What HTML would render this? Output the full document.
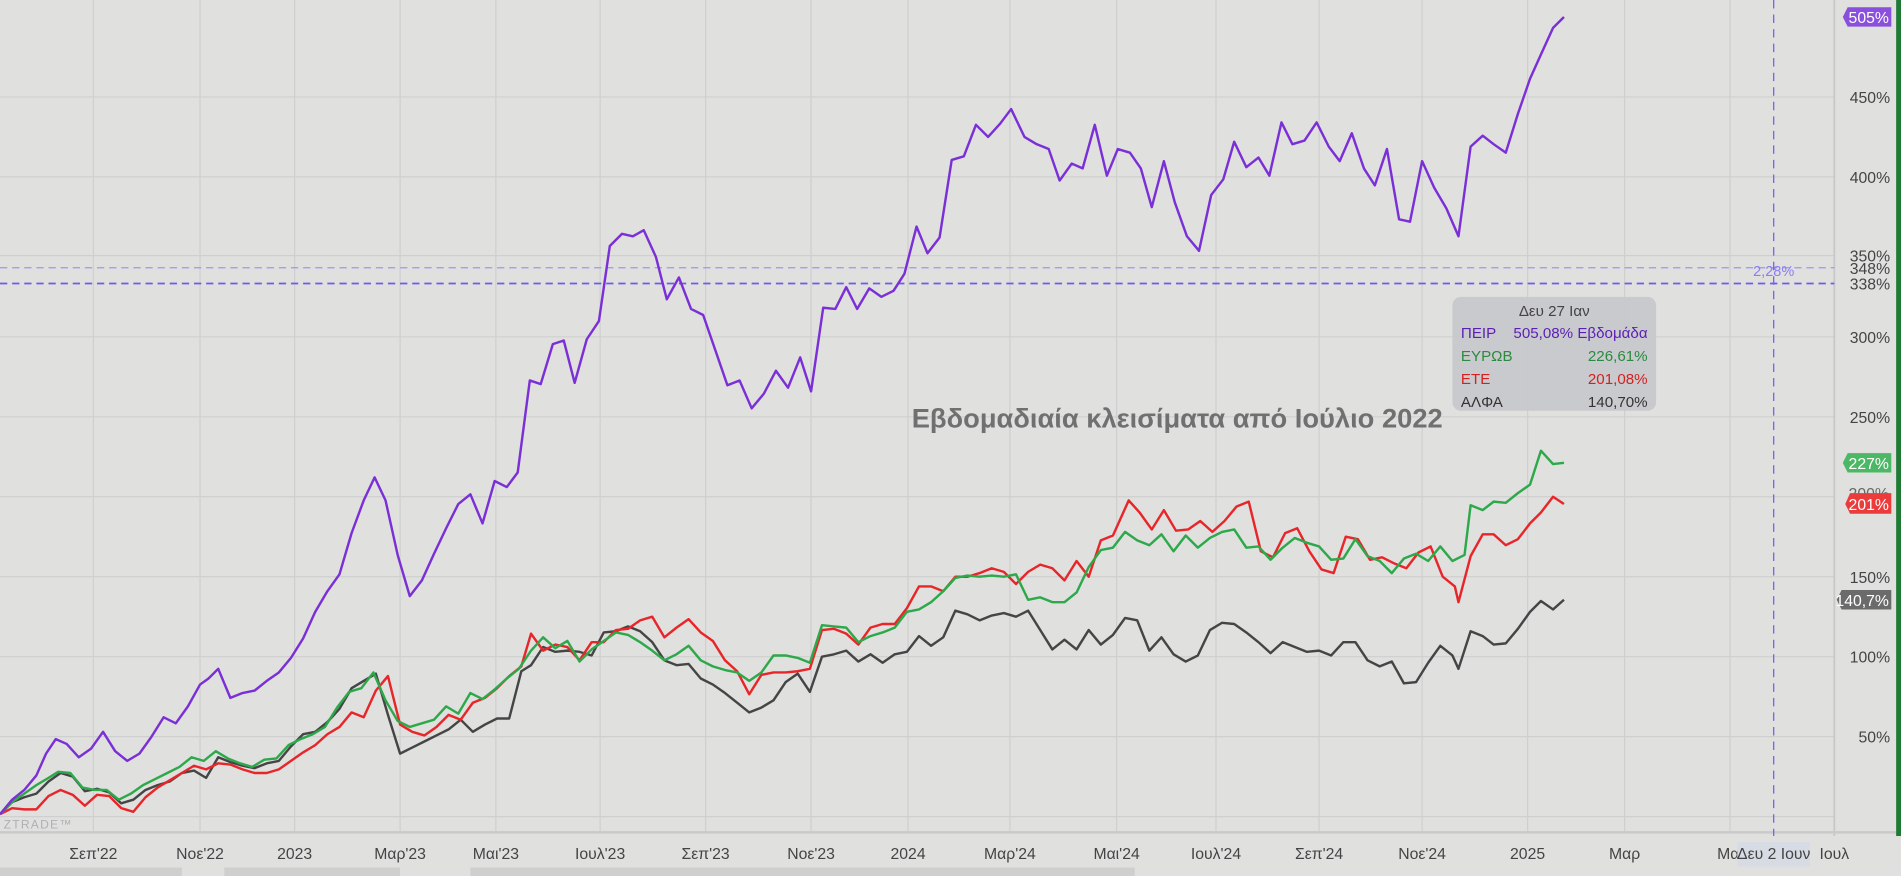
<!DOCTYPE html>
<html><head><meta charset="utf-8"><style>
html,body{margin:0;padding:0;background:#e0e0df;overflow:hidden}
svg{display:block}
text{font-family:"Liberation Sans","DejaVu Sans",sans-serif}
</style></head><body>
<svg width="1901" height="876" viewBox="0 0 1568 723" preserveAspectRatio="none" xmlns="http://www.w3.org/2000/svg">
<rect x="0" y="0" width="1568" height="723" fill="#e0e0df"/>
<g stroke="#cfcfcf" stroke-width="1">
<line x1="0" y1="80" x2="1513" y2="80"/><line x1="0" y1="146" x2="1513" y2="146"/><line x1="0" y1="211" x2="1513" y2="211"/><line x1="0" y1="278" x2="1513" y2="278"/><line x1="0" y1="344" x2="1513" y2="344"/><line x1="0" y1="410" x2="1513" y2="410"/><line x1="0" y1="476" x2="1513" y2="476"/><line x1="0" y1="542" x2="1513" y2="542"/><line x1="0" y1="608" x2="1513" y2="608"/><line x1="0" y1="674" x2="1513" y2="674"/>
<line x1="77" y1="0" x2="77" y2="687"/><line x1="165" y1="0" x2="165" y2="687"/><line x1="243" y1="0" x2="243" y2="687"/><line x1="330" y1="0" x2="330" y2="687"/><line x1="409" y1="0" x2="409" y2="687"/><line x1="495" y1="0" x2="495" y2="687"/><line x1="582" y1="0" x2="582" y2="687"/><line x1="669" y1="0" x2="669" y2="687"/><line x1="749" y1="0" x2="749" y2="687"/><line x1="833" y1="0" x2="833" y2="687"/><line x1="921" y1="0" x2="921" y2="687"/><line x1="1003" y1="0" x2="1003" y2="687"/><line x1="1088" y1="0" x2="1088" y2="687"/><line x1="1173" y1="0" x2="1173" y2="687"/><line x1="1260" y1="0" x2="1260" y2="687"/><line x1="1340" y1="0" x2="1340" y2="687"/><line x1="1427" y1="0" x2="1427" y2="687"/>
</g>
<line x1="1513" y1="0" x2="1513" y2="690" stroke="#c8c8c8" stroke-width="1.5"/>
<line x1="0" y1="687" x2="1568" y2="687" stroke="#cacaca" stroke-width="2"/>
<rect x="1564" y="0" width="4" height="690" fill="#1f7a35"/>
<line x1="0" y1="221" x2="1513" y2="221" stroke="#9d95f0" stroke-width="1" stroke-dasharray="6,4"/>
<line x1="0" y1="234" x2="1513" y2="234" stroke="#6b5cf0" stroke-width="1.5" stroke-dasharray="6,4"/>
<line x1="1463" y1="0" x2="1463" y2="690" stroke="#6b5cf0" stroke-width="1" stroke-dasharray="7,5"/>
<text x="1463" y="228" font-size="12" fill="#8a80f0" text-anchor="middle">2,28%</text>
<g font-size="13" fill="#444" text-anchor="end">
<text x="1559" y="85">450%</text><text x="1559" y="151">400%</text><text x="1559" y="216">350%</text><text x="1559" y="226">348%</text><text x="1559" y="239">338%</text><text x="1559" y="283">300%</text><text x="1559" y="349">250%</text><text x="1559" y="481">150%</text><text x="1559" y="547">100%</text><text x="1559" y="613">50%</text>
</g>
<text x="3" y="684" font-size="10" fill="#b0b0b0" letter-spacing="1">ZTRADE™</text>
<g font-size="13" fill="#444" text-anchor="middle">
<text x="77" y="709">Σεπ'22</text><text x="165" y="709">Νοε'22</text><text x="243" y="709">2023</text><text x="330" y="709">Μαρ'23</text><text x="409" y="709">Μαι'23</text><text x="495" y="709">Ιουλ'23</text><text x="582" y="709">Σεπ'23</text><text x="669" y="709">Νοε'23</text><text x="749" y="709">2024</text><text x="833" y="709">Μαρ'24</text><text x="921" y="709">Μαι'24</text><text x="1003" y="709">Ιουλ'24</text><text x="1088" y="709">Σεπ'24</text><text x="1173" y="709">Νοε'24</text><text x="1260" y="709">2025</text><text x="1340" y="709">Μαρ</text><text x="1427" y="709">Μαι</text><text x="1513" y="709">Ιουλ</text>
</g>
<rect x="1433" y="695" width="60" height="20" fill="#d6dbe4"/>
<text x="1463" y="709" font-size="13" fill="#444" text-anchor="middle">Δευ 2 Ιουν</text>
<rect x="0" y="716" width="150" height="7" fill="#cfcfcf"/><rect x="185" y="716" width="145" height="7" fill="#cfcfcf"/><rect x="388" y="716" width="548" height="7" fill="#cfcfcf"/>
<g fill="none" stroke-width="2" stroke-linejoin="round">
<polyline stroke="#454545" points="0,672 10,662 20,658 30,655 40,645 50,638 60,641 70,653 80,651 90,654 100,663 110,660 120,652 130,648 140,645 150,638 160,636 170,642 180,625 190,629 200,632 210,634 220,630 230,628 240,616 250,606 260,604 270,596 280,585 290,568 300,562 310,556 320,590 330,622 340,617 350,612 360,607 370,602 380,594 390,604 400,598 410,593 420,593 430,554 438,549 448,534 458,538 468,537 478,538 488,541 498,522 508,521 518,517 528,521 538,530 548,545 558,549 568,548 578,560 588,565 598,572 608,580 618,588 628,584 638,578 648,563 658,556 668,571 678,542 688,540 698,537 708,546 718,540 728,547 738,540 748,538 758,525 768,533 778,526 788,504 798,507 808,512 818,508 828,506 838,509 848,504 858,520 868,536 878,528 888,536 898,520 908,532 918,524 928,510 938,512 948,537 958,526 968,540 978,546 988,541 998,520 1008,514 1018,515 1028,522 1038,530 1048,539 1058,530 1068,534 1078,538 1088,537 1098,541 1108,530 1118,530 1128,545 1138,550 1148,546 1158,564 1168,563 1178,547 1188,533 1198,541 1203,552 1213,521 1223,525 1232,532 1242,531 1252,519 1262,505 1271,496 1281,503 1290,495"/>
<polyline stroke="#e8262a" points="0,672 10,667 20,668 30,668 40,657 50,652 60,656 70,665 80,656 90,657 100,667 110,670 120,658 130,650 140,644 150,638 160,632 170,635 180,630 190,631 200,635 210,638 220,638 230,635 240,628 250,621 260,615 270,606 280,600 290,588 300,592 310,570 320,558 330,598 340,604 350,607 360,600 370,590 380,594 390,580 400,576 410,568 420,558 430,550 438,523 448,537 458,532 468,534 478,545 488,530 498,530 508,520 518,519 528,512 538,509 548,526 558,518 568,511 578,522 588,529 598,545 608,554 618,573 628,557 638,555 648,555 658,554 668,552 678,520 688,519 698,523 708,532 718,518 728,515 738,515 748,502 758,484 768,484 778,488 788,476 798,476 808,473 818,469 828,472 838,482 848,472 858,466 868,469 878,479 888,463 898,476 908,446 918,442 931,413 940,423 950,437 960,421 970,438 980,437 990,430 1000,439 1010,430 1020,418 1030,414 1040,455 1050,460 1060,440 1070,436 1080,455 1090,470 1100,473 1110,443 1120,445 1130,462 1140,460 1150,465 1160,469 1170,456 1180,451 1190,476 1200,484 1203,497 1213,459 1223,441 1232,441 1242,450 1252,445 1262,432 1271,423 1281,410 1290,416"/>
<polyline stroke="#2da84a" points="0,672 10,662 20,655 30,648 40,642 48,637 58,638 68,650 78,652 88,652 98,660 108,655 118,648 128,643 138,638 148,633 158,625 168,628 178,620 188,626 198,630 208,633 218,627 228,626 238,615 248,610 258,606 268,600 278,584 288,571 298,568 308,555 318,578 328,595 338,600 348,597 358,594 368,583 378,589 388,572 398,577 408,569 418,560 428,552 438,537 448,526 458,535 468,529 478,546 488,536 498,529 508,522 518,524 528,530 538,537 548,545 558,540 568,533 578,545 588,550 598,553 608,555 618,562 628,555 638,541 648,541 658,543 668,547 678,516 688,517 698,518 708,530 718,525 728,522 738,518 748,505 758,503 768,497 778,488 788,477 798,475 808,476 818,475 828,476 838,474 848,495 858,493 868,497 878,497 888,489 898,468 908,454 918,452 928,439 938,446 948,450 958,441 968,455 978,442 988,452 998,444 1008,439 1018,437 1028,452 1038,451 1048,462 1058,452 1068,444 1078,448 1088,451 1098,462 1108,461 1118,445 1128,459 1138,463 1148,473 1158,461 1168,457 1178,463 1188,451 1198,463 1208,458 1213,417 1223,421 1232,414 1242,415 1252,407 1262,400 1271,372 1281,383 1290,382"/>
<polyline stroke="#7b2fd6" points="0,672 10,660 20,652 30,640 38,622 46,610 55,614 65,625 75,618 85,604 95,620 105,628 115,622 125,608 135,592 145,597 155,583 165,565 172,560 180,552 190,576 200,572 210,570 220,562 230,555 240,543 250,527 260,505 270,488 280,474 290,440 300,413 309,394 318,413 328,458 338,492 348,479 358,457 368,436 378,416 388,408 398,432 408,397 418,402 427,390 437,314 446,317 456,284 465,281 474,316 484,280 494,265 503,203 513,193 522,195 531,190 541,212 550,247 560,229 570,255 580,260 590,289 600,318 610,314 620,337 630,325 640,306 650,320 660,295 669,323 679,254 689,255 698,237 707,255 717,238 727,245 737,240 746,226 756,187 765,209 775,196 785,132 795,129 805,103 815,113 825,102 834,90 845,113 855,119 865,123 874,149 884,135 893,139 903,103 913,145 922,123 932,126 941,139 950,171 960,133 969,167 979,195 989,207 999,161 1009,148 1018,117 1028,138 1038,130 1047,145 1057,101 1066,119 1076,116 1086,101 1096,121 1105,133 1115,110 1125,139 1134,153 1144,123 1154,181 1163,183 1173,133 1183,155 1193,172 1203,195 1213,121 1223,112 1232,119 1242,126 1252,94 1262,65 1271,45 1281,23 1290,14"/>
</g>
<text x="971" y="353" font-size="22" font-weight="bold" fill="#707070" text-anchor="middle" textLength="438" lengthAdjust="spacingAndGlyphs">Εβδομαδιαία κλεισίματα από Ιούλιο 2022</text>
<rect x="1198" y="245" width="168" height="94" rx="7" fill="#c6c8cc" opacity="0.9"/>
<g font-size="12.5">
<text x="1282" y="261" fill="#444" text-anchor="middle">Δευ 27 Ιαν</text>
<text x="1205" y="279" fill="#5b1fb5">ΠΕΙΡ</text><text x="1359" y="279" fill="#5b1fb5" text-anchor="end">505,08% Εβδομάδα</text>
<text x="1205" y="298" fill="#2a8a3e">ΕΥΡΩΒ</text><text x="1359" y="298" fill="#2a8a3e" text-anchor="end">226,61%</text>
<text x="1205" y="317" fill="#d42020">ΕΤΕ</text><text x="1359" y="317" fill="#d42020" text-anchor="end">201,08%</text>
<text x="1205" y="336" fill="#333">ΑΛΦΑ</text><text x="1359" y="336" fill="#333" text-anchor="end">140,70%</text>
</g>
<g font-size="13" fill="#fff" text-anchor="end">
<path d="M1524,6 H1560 V22 H1524 L1520,14 Z" fill="#8a4fdc"/><text x="1558" y="19">505%</text>
<path d="M1524,374 H1560 V390 H1524 L1520,382 Z" fill="#4cb866"/><text x="1558" y="387">227%</text>
<text x="1558" y="412" fill="#666">200%</text>
<path d="M1526,407 H1560 V424 H1526 L1522,416 Z" fill="#ec3b3b"/><text x="1558" y="421">201%</text>
<path d="M1519,487 H1560 V503 H1519 L1515,495 Z" fill="#6b6b6b"/><text x="1558" y="500">140,7%</text>
</g>
</svg>
</body></html>
